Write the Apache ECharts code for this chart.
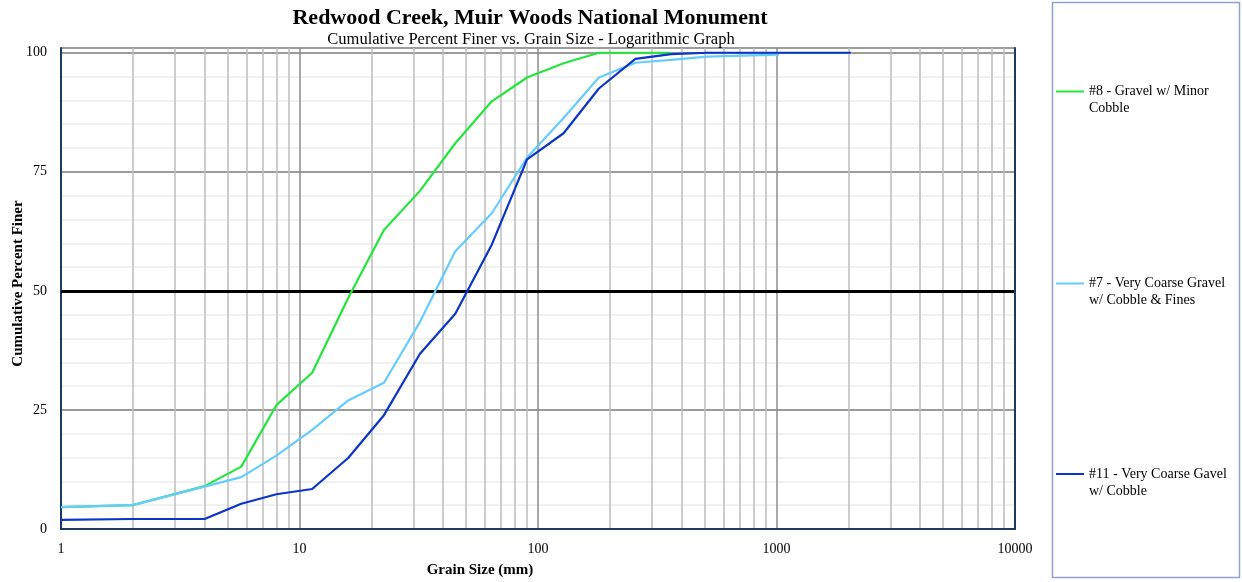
<!DOCTYPE html>
<html>
<head>
<meta charset="utf-8">
<title>Redwood Creek, Muir Woods National Monument</title>
<script src="https://cdn.jsdelivr.net/npm/echarts@6/dist/echarts.min.js"></script>
<style>
  html, body { margin: 0; padding: 0; background: #ffffff; }
  #chart { width: 1242px; height: 582px; }
</style>
</head>
<body>
<div id="chart"></div>
<script>
// Pebble-count sieve sizes (mm)
const grainSize = [1, 2, 4, 5.7, 8, 11.3, 16, 22.6, 32, 45, 64, 90, 128, 180, 256, 362, 512, 1024, 2048];

// Cumulative percent finer for each sample site
const site8 = [4.6, 5.0, 9.0, 13.1, 26.0, 32.8, 48.5, 62.8, 71.0, 81.0, 89.8, 94.8, 97.8, 100, 100, 100];
const site7 = [4.6, 5.0, 8.9, 10.9, 15.4, 20.8, 27.0, 30.7, 43.5, 58.3, 66.3, 78.0, 86.3, 94.8, 97.9, 98.5, 99.2, 99.6];
const site11 = [1.9, 2.1, 2.1, 5.3, 7.3, 8.4, 14.9, 23.9, 36.8, 45.2, 59.7, 77.6, 83.1, 92.5, 98.7, 99.7, 100, 100, 100];

const seriesNames = [
  '#8 - Gravel w/ Minor Cobble',
  '#7 - Very Coarse Gravel w/ Cobble & Fines',
  '#11 - Very Coarse Gavel w/ Cobble'
];
const legendLines = [
  ['#8 - Gravel w/ Minor', 'Cobble'],
  ['#7 - Very Coarse Gravel', 'w/ Cobble & Fines'],
  ['#11 - Very Coarse Gavel', 'w/ Cobble']
];
const seriesColors = ['#22E63C', '#66CCFF', '#0A35C8'];

const yTicks = [0, 25, 50, 75, 100];
const xDecades = [1, 10, 100, 1000];
const medianLine = 50;

// Intermediate log gridlines: 2..9 within each decade
const minorGrainLines = [];
xDecades.forEach(d => { for (let k = 2; k <= 9; k++) minorGrainLines.push(k * d); });

const FONT = '"Liberation Serif", "Times New Roman", serif';
const NAVY = '#1F3864';

function pairs(values) {
  return values.map((v, i) => [grainSize[i], v]);
}

const chart = echarts.init(document.getElementById('chart'), null, { renderer: 'canvas' });

const lineSeries = [site8, site7, site11].map((vals, i) => ({
  name: seriesNames[i],
  type: 'line',
  data: pairs(vals),
  symbol: 'none',
  smooth: false,
  z: 3 + i,
  lineStyle: { color: seriesColors[i], width: 2.2, join: 'round' },
  itemStyle: { color: seriesColors[i] }
}));

const option = {
  backgroundColor: '#ffffff',
  animation: false,
  title: [
    {
      text: 'Redwood Creek, Muir Woods National Monument',
      left: 530, top: 7, textAlign: 'center',
      padding: 0,
      textStyle: { fontFamily: FONT, fontWeight: 'bold', fontSize: 22, color: '#000' }
    },
    {
      text: 'Cumulative Percent Finer vs. Grain Size - Logarithmic Graph',
      left: 531, top: 31, textAlign: 'center',
      padding: 0,
      textStyle: { fontFamily: FONT, fontWeight: 'normal', fontSize: 16.5, color: '#000' }
    }
  ],
  legend: legendLines.map((lines, i) => ({
    data: [seriesNames[i]],
    orient: 'vertical',
    left: 1051,
    top: [61, 253, 443.5][i],
    icon: 'rect',
    itemWidth: 28,
    itemHeight: 2,
    selectedMode: false,
    formatter: () => '\n' + lines[0] + '\n' + lines[1],
    textStyle: { fontFamily: FONT, fontSize: 14, lineHeight: 17, color: '#000' }
  })),
  graphic: [
    {
      type: 'rect',
      shape: { x: 1052.5, y: 2.5, width: 187, height: 575 },
      style: { fill: 'none', stroke: '#8FA2CC', lineWidth: 1.5 },
      silent: true, z: -1
    }
  ],
  grid: { left: 61, right: 227, top: 48, bottom: 53, containLabel: false, outerBoundsMode: 'none' },
  xAxis: [
    {
      type: 'log', logBase: 10, min: 1, max: 10000,
      name: 'Grain Size (mm)',
      nameLocation: 'middle', nameGap: 34, nameMoveOverlap: false,
      nameTextStyle: { fontFamily: FONT, fontWeight: 'bold', fontSize: 15, color: '#000', padding: [0, 116, 0, 0] },
      axisLine: { show: true, lineStyle: { color: NAVY, width: 2 } },
      axisTick: { show: false },
      axisLabel: { fontFamily: FONT, fontSize: 14, color: '#000', margin: 13, formatter: v => String(v) },
      splitLine: { show: true, lineStyle: { color: '#8C8C8C', width: 1.5 } },
      z: 0
    },
    {
      type: 'value', position: 'top', min: 0, max: 1,
      axisLine: { show: true, lineStyle: { color: NAVY, width: 2 } },
      axisTick: { show: false }, axisLabel: { show: false }, splitLine: { show: false },
      z: 6
    }
  ],
  yAxis: [
    {
      type: 'value', min: 0, max: 101, interval: 25,
      name: 'Cumulative Percent Finer',
      nameLocation: 'middle', nameGap: 35, nameRotate: 90, nameMoveOverlap: false,
      nameTextStyle: { fontFamily: FONT, fontWeight: 'bold', fontSize: 15, color: '#000', padding: [0, 0, 0, 10] },
      axisLine: { show: true, lineStyle: { color: NAVY, width: 2 } },
      axisTick: { show: false },
      axisLabel: {
        fontFamily: FONT, fontSize: 14, color: '#000', margin: 14,
        formatter: v => (yTicks.indexOf(v) >= 0 ? String(v) : '')
      },
      splitLine: { show: true, lineStyle: { color: '#9C9C9C', width: 2 } },
      minorTick: { show: false, splitNumber: 5 },
      minorSplitLine: { show: true, lineStyle: { color: '#EDEDED', width: 1.5 } },
      z: 0
    },
    {
      type: 'value', position: 'right', min: 0, max: 1,
      axisLine: { show: true, lineStyle: { color: NAVY, width: 2 } },
      axisTick: { show: false }, axisLabel: { show: false }, splitLine: { show: false },
      z: 6
    }
  ],
  series: [
    {
      // intermediate log gridlines (2..9 in each decade)
      name: 'log-grid',
      type: 'line',
      data: [],
      z: 1,
      silent: true,
      markLine: {
        z: 1,
        silent: true,
        symbol: 'none',
        label: { show: false },
        animation: false,
        lineStyle: { color: '#BDBDBD', width: 1.5, type: 'solid' },
        data: minorGrainLines.map(v => ({ xAxis: v }))
      }
    },
    {
      // 50 % passing line
      name: 'median-line',
      type: 'line',
      data: [],
      z: 2,
      silent: true,
      markLine: {
        z: 2,
        silent: true,
        symbol: 'none',
        label: { show: false },
        animation: false,
        lineStyle: { color: '#000000', width: 3, type: 'solid' },
        data: [{ yAxis: medianLine }]
      }
    }
  ].concat(lineSeries)
};

chart.setOption(option);
</script>
</body>
</html>
